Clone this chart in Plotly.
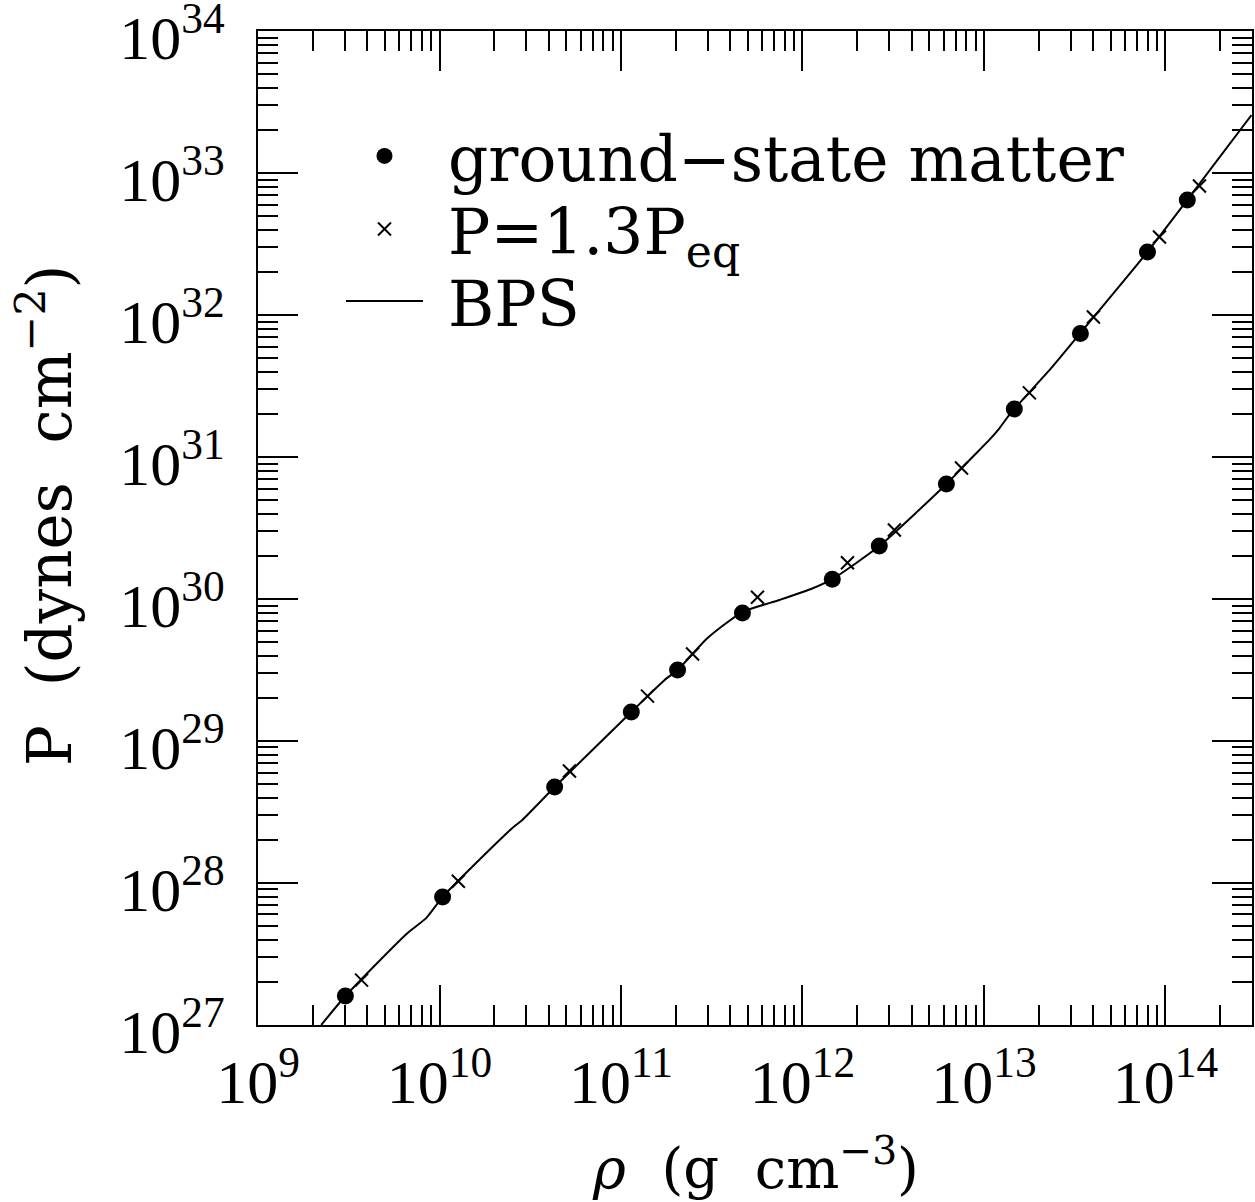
import plotly.graph_objects as go

# Ground-state matter equation of state (density in g/cm^3, pressure in dyn/cm^2)
rho_ground = [3.03e9, 1.04e10, 4.31e10, 1.14e11, 2.05e11, 4.67e11, 1.46e12,
              2.65e12, 6.21e12, 1.47e13, 3.40e13, 7.96e13, 1.32e14]
p_ground = [1.60e27, 7.96e27, 4.74e28, 1.60e29, 3.16e29, 7.96e29, 1.38e30,
            2.36e30, 6.46e30, 2.18e31, 7.41e31, 2.78e32, 6.46e32]

# Compressed matter, P = 1.3 P_eq
rho_comp = [3.72e9, 1.27e10, 5.20e10, 1.40e11, 2.48e11, 5.65e11, 1.77e12,
            3.21e12, 7.52e12, 1.78e13, 4.01e13, 9.27e13, 1.54e14]
p_comp = [2.07e27, 1.03e28, 6.15e28, 2.07e29, 4.10e29, 1.03e30, 1.80e30,
          3.06e30, 8.37e30, 2.83e31, 9.68e31, 3.54e32, 8.09e32]

# BPS equation of state curve
rho_bps = [2.23e9, 3.03e9, 6.58e9, 8.47e9, 1.04e10, 2.06e10, 2.52e10, 2.86e10,
           4.31e10, 1.14e11, 1.74e11, 2.05e11, 3.00e11, 4.67e11, 7.46e11,
           1.14e12, 1.46e12, 2.65e12, 6.21e12, 8.65e12, 1.07e13, 1.22e13,
           1.35e13, 1.47e13, 2.38e13, 3.40e13, 7.96e13, 1.32e14, 2.98e14]
p_bps = [1.00e27, 1.60e27, 4.38e27, 5.68e27, 7.96e27, 1.91e28, 2.44e28, 2.78e28,
         4.74e28, 1.60e29, 2.69e29, 3.16e29, 5.31e29, 8.09e29, 9.84e29,
         1.19e30, 1.38e30, 2.36e30, 6.46e30, 1.00e31, 1.32e31, 1.60e31,
         1.91e31, 2.18e31, 4.31e31, 7.46e31, 2.78e32, 6.46e32, 2.56e33]

x_exps = list(range(9, 15))
y_exps = list(range(27, 35))

TICK_FONT = dict(family="Liberation Serif", size=62, color="black")
TEXT_FONT = "DejaVu Serif"

# plot area in pixels
L, T, W, H = 258, 31, 994, 994


def px_x(px):
    return (px - L) / W


def px_y(py):
    return (T + H - py) / H


fig = go.Figure()

fig.add_trace(go.Scatter(
    x=rho_ground, y=p_ground, mode="markers", name=" ground\u2212state matter",
    marker=dict(symbol="circle", size=17, color="black"),
    legend="legend",
))
fig.add_trace(go.Scatter(
    x=rho_comp, y=p_comp, mode="markers", name=" P=1.3P<sub>eq</sub>",
    marker=dict(symbol="x-thin", size=13, color="black",
                line=dict(width=2, color="black")),
    legend="legend2",
))
fig.add_trace(go.Scatter(
    x=rho_bps, y=p_bps, mode="lines", name=" BPS",
    line=dict(color="black", width=2, shape="spline", smoothing=0.6),
    legend="legend3",
))

axis_common = dict(
    type="log",
    showgrid=False,
    zeroline=False,
    showline=True,
    linecolor="black",
    linewidth=2,
    mirror="allticks",
    ticks="inside",
    ticklen=40,
    tickwidth=2,
    tickcolor="black",
    tickfont=TICK_FONT,
    ticklabeloverflow="allow",
    automargin=False,
    minor=dict(ticks="inside", ticklen=20, tickwidth=2, tickcolor="black",
               dtick="D1", showgrid=False),
)

fig.update_xaxes(
    **axis_common,
    range=[8.9999, 14.477],
    tickvals=[10.0 ** e for e in x_exps],
    ticktext=[f"10<sup>{e}</sup>" for e in x_exps],
    ticklabelstandoff=2,
)
fig.update_yaxes(
    **axis_common,
    range=[26.9999, 34.0001],
    tickvals=[10.0 ** e for e in y_exps],
    ticktext=[f"10<sup>{e}</sup>" for e in y_exps],
    ticklabelstandoff=19,
    ticklabelshift=6,
)

fig.add_annotation(
    text="<i>\u03c1</i>  (g  cm<sup>\u22123</sup>)",
    xref="paper", yref="paper", x=px_x(755), y=px_y(1164),
    xanchor="center", yanchor="middle", showarrow=False,
    font=dict(family=TEXT_FONT, size=56, color="black"),
)
fig.add_annotation(
    text="P  (dynes  cm<sup>\u22122</sup>)",
    xref="paper", yref="paper", x=px_x(45), y=px_y(516),
    xanchor="center", yanchor="middle", textangle=-90, showarrow=False,
    font=dict(family=TEXT_FONT, size=61, color="black"),
)

legend_style = dict(
    xanchor="left", yanchor="middle",
    bgcolor="rgba(0,0,0,0)", borderwidth=0,
    font=dict(family=TEXT_FONT, size=63, color="black"),
    itemwidth=77,
)

fig.update_layout(
    width=1255,
    height=1202,
    margin=dict(l=L, r=1255 - L - W, t=T, b=1202 - T - H, autoexpand=False),
    paper_bgcolor="white",
    plot_bgcolor="white",
    showlegend=True,
    legend=dict(x=px_x(341), y=px_y(156), **legend_style),
    legend2=dict(x=px_x(341), y=px_y(229), **legend_style),
    legend3=dict(x=px_x(341), y=px_y(301), **legend_style),
)

fig.write_html("out.html")
